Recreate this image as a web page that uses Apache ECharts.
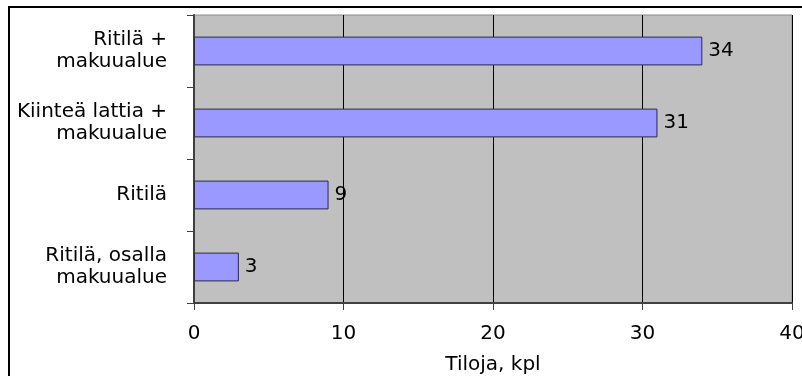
<!DOCTYPE html>
<html>
<head>
<meta charset="utf-8">
<script src="https://cdn.jsdelivr.net/npm/echarts@6/dist/echarts.min.js"></script>
<style>
  html, body { margin: 0; padding: 0; background: #ffffff; }
  #chart { width: 802px; height: 376px; }
</style>
</head>
<body>
<div id="chart"></div>
<script>
// Floor type categories (top to bottom) and number of farms for each
const categories = [
  'Ritilä +\nmakuualue',
  'Kiinteä lattia +\nmakuualue',
  'Ritilä',
  'Ritilä, osalla\nmakuualue'
];
const farmCounts = [34, 31, 9, 3];
const axisTitle = 'Tiloja, kpl';
const xMin = 0, xMax = 40, xStep = 10;

const FONT = 'DejaVu Sans';

const chart = echarts.init(document.getElementById('chart'), null, { renderer: 'canvas' });
chart.setOption({
  animation: false,
  backgroundColor: '#ffffff',
  grid: {
    left: 194, top: 15, right: 10, bottom: 73,
    containLabel: false,
    outerBoundsMode: 'none',
    show: true,
    backgroundColor: '#c0c0c0',
    borderColor: '#8a8a8a',
    borderWidth: 1
  },
  xAxis: {
    type: 'value',
    min: xMin, max: xMax, interval: xStep,
    name: axisTitle,
    nameLocation: 'middle',
    nameGap: 52,
    nameTextStyle: { fontFamily: FONT, fontSize: 20, color: '#000' },
    axisLine: { show: true, lineStyle: { color: '#404040', width: 2 } },
    axisTick: { show: true, length: 7, lineStyle: { color: '#404040', width: 1 } },
    axisLabel: { fontFamily: FONT, fontSize: 20, color: '#000', margin: 21, hideOverlap: false },
    splitLine: { show: true, lineStyle: { color: '#000', width: 1 } }
  },
  yAxis: {
    type: 'category',
    inverse: true,
    data: categories,
    axisLine: { show: true, lineStyle: { color: '#404040', width: 2 } },
    axisTick: { show: true, length: 7, alignWithLabel: false, lineStyle: { color: '#404040', width: 1 } },
    axisLabel: {
      fontFamily: FONT, fontSize: 20, color: '#000',
      lineHeight: 22, align: 'right', margin: 27
    },
    splitLine: { show: false }
  },
  series: [{
    type: 'bar',
    data: farmCounts,
    barCategoryGap: '60%',
    itemStyle: { color: '#9999ff', borderColor: '#2a2a40', borderWidth: 1 },
    label: {
      show: true, position: 'right', distance: 6,
      fontFamily: FONT, fontSize: 20, color: '#000'
    }
  }],
  graphic: [{
    type: 'rect',
    silent: true,
    shape: { x: 9, y: 7, width: 900, height: 900 },
    style: { fill: 'none', stroke: '#000', lineWidth: 2 }
  }]
});
</script>
</body>
</html>
